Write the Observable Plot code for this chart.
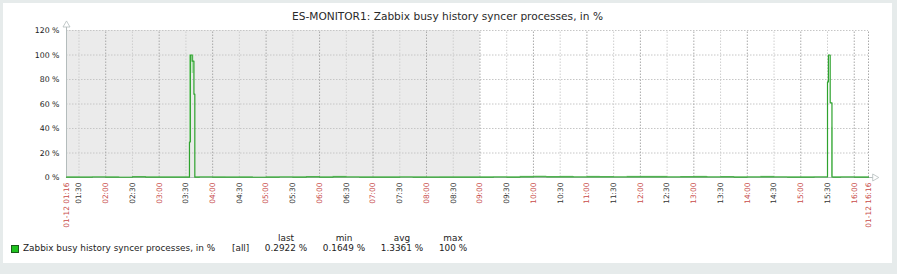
<!DOCTYPE html>
<html><head><meta charset="utf-8">
<script src="https://cdn.jsdelivr.net/npm/d3@7"></script>
<script src="https://cdn.jsdelivr.net/npm/@observablehq/plot@0.6"></script>
<style>
body{margin:0;background:#e6ebeb;font-family:"DejaVu Sans",sans-serif;width:897px;height:274px;overflow:hidden;position:relative}
#panel{position:absolute;left:3px;top:3px;width:889px;height:260px;background:#fff}
#title{position:absolute;left:3px;width:889px;top:10px;text-align:center;font-size:10.6px;color:#2a2a2a}
#chart{position:absolute;left:3px;top:3px}
.lg{position:absolute;font-size:8.9px;color:#222;white-space:nowrap}
</style></head><body>
<div id="panel"></div>
<div id="chart"></div>
<div id="title">ES-MONITOR1: Zabbix busy history syncer processes, in %</div>
<div id="legend"></div>
<script>
const day = "2024-01-12T";
// series (time HH:MM, avg/min/max in %)
const times = ["01:16","01:30","01:45","02:00","02:15","02:30","02:45","03:00","03:15","03:30","03:34","03:35","03:37","03:39","03:40","03:45","04:00","04:15","04:30","04:45","05:00","05:15","05:30","05:45","06:00","06:15","06:30","06:45","07:00","07:15","07:30","07:45","08:00","08:15","08:30","08:45","09:00","09:15","09:30","09:45","10:00","10:15","10:30","10:45","11:00","11:15","11:30","11:45","12:00","12:15","12:30","12:45","13:00","13:15","13:30","13:45","14:00","14:15","14:30","14:45","15:00","15:15","15:30","15:31","15:33","15:35","15:36","15:45","16:00","16:16"];
const avgVals = [0.3,0.25,0.4,0.3,0.2,0.5,0.3,0.35,0.3,0.3,29,100,95,68,0.3,0.4,0.3,0.25,0.3,0.2,0.35,0.4,0.3,0.45,0.3,0.5,0.4,0.3,0.35,0.3,0.4,0.3,0.25,0.3,0.35,0.3,0.3,0.4,0.35,0.5,0.6,0.45,0.5,0.4,0.5,0.45,0.4,0.5,0.55,0.5,0.4,0.45,0.5,0.4,0.45,0.35,0.4,0.5,0.4,0.35,0.3,0.4,78,100,61,0.4,0.35,0.4,0.35,0.29];
const minVals = [0.2,0.17,0.2,0.2,0.17,0.2,0.2,0.2,0.2,0.2,0.3,100,85,68,0.2,0.2,0.2,0.17,0.2,0.17,0.2,0.2,0.2,0.2,0.2,0.2,0.2,0.2,0.2,0.2,0.2,0.2,0.17,0.2,0.2,0.2,0.2,0.2,0.2,0.2,0.3,0.2,0.3,0.2,0.3,0.2,0.2,0.3,0.3,0.3,0.2,0.2,0.3,0.2,0.2,0.2,0.2,0.3,0.2,0.2,0.2,0.2,78,100,61,0.2,0.2,0.2,0.2,0.2];
const maxVals = [0.6,0.5,0.8,0.6,0.5,0.9,0.6,0.7,0.6,0.6,100,100,100,68,0.6,0.8,0.6,0.5,0.6,0.5,0.7,0.8,0.6,0.9,0.6,1.0,0.8,0.6,0.7,0.6,0.8,0.6,0.5,0.6,0.7,0.6,0.6,0.8,0.7,1.0,1.2,0.9,1.0,0.8,1.0,0.9,0.8,1.0,1.1,1.0,0.8,0.9,1.0,0.8,0.9,0.7,0.8,1.0,0.8,0.7,0.6,0.8,78,100,61,41,0.7,0.8,0.7,0.6];
// x tick labels
const tickTimes = ["01:16","01:30","02:00","02:30","03:00","03:30","04:00","04:30","05:00","05:30","06:00","06:30","07:00","07:30","08:00","08:30","09:00","09:30","10:00","10:30","11:00","11:30","12:00","12:30","13:00","13:30","14:00","14:30","15:00","15:30","16:00","16:16"];
const tickLabels = ["01-12 01:16","01:30","02:00","02:30","03:00","03:30","04:00","04:30","05:00","05:30","06:00","06:30","07:00","07:30","08:00","08:30","09:00","09:30","10:00","10:30","11:00","11:30","12:00","12:30","13:00","13:30","14:00","14:30","15:00","15:30","16:00","01-12 16:16"];
const yTicks = [0,20,40,60,80,100,120];
// shaded non-working period
const shadeStart = ["01:16"], shadeEnd = ["09:00"];
// legend
const legendName = "Zabbix busy history syncer processes, in %";
const legendHeaders = ["last","min","avg","max"];
const legendValues = ["0.2922 %","0.1649 %","1.3361 %","100 %"];

const T = s => new Date(day + s + ":00Z");
const data = times.map((t,i)=>({t:T(t),avg:avgVals[i],min:minVals[i],max:maxVals[i]}));
const ticks = tickTimes.map((t,i)=>({t:T(t),label:tickLabels[i],major:t.endsWith(":00")||i===0||i===tickTimes.length-1}));
const grid = ticks.filter((d,i)=>i>0);
const shade = shadeStart.map((s,i)=>({x1:T(s),x2:T(shadeEnd[i])}));
const t0 = T(times[0]), t1 = T(times[times.length-1]);

const plot = Plot.plot({
  width: 889, height: 232,
  marginLeft: 63, marginRight: 24, marginTop: 27, marginBottom: 58,
  style: {fontFamily: "DejaVu Sans, sans-serif", background: "transparent", overflow: "visible"},
  x: {type: "utc", domain: [t0, t1], axis: null},
  y: {domain: [0, 120], axis: null},
  marks: [
    Plot.rect(shade, {x1: "x1", x2: "x2", y1: 0, y2: 120, fill: "#ebebeb"}),
    Plot.ruleY(yTicks.filter(d=>d>0), {stroke: "#c6c6c6", strokeDasharray: "1.5,1.5"}),
    Plot.ruleX(grid, {x: "t", y1: 0, y2: 120, stroke: d=>d.major ? "#a9a9a9" : "#cfcfcf", strokeDasharray: "1.5,1.5"}),
    Plot.ruleX([t0], {y1: 0, y2: 124, stroke: "#b4bcbc"}),
    Plot.ruleY([0], {x1: t0, x2: T("16:23"), stroke: "#b4bcbc"}),
    Plot.dot([t0], {x: d=>d, y: 124.5, symbol: "triangle", r: 2.6, stroke: "#b4bcbc", fill: "white", strokeWidth: 0.8}),
    Plot.dot([T("16:23")], {x: d=>d, y: 0, symbol: "triangle", rotate: 90, r: 2.6, stroke: "#b4bcbc", fill: "white", strokeWidth: 0.8}),
    Plot.areaY(data, {x: "t", y1: "min", y2: "max", curve: "step-after", fill: "#a6dea6"}),
    Plot.lineY(data, {x: "t", y: "avg", curve: "step-after", stroke: "#2ea32e", strokeWidth: 1.2}),
    Plot.text(yTicks, {x: t0, y: d=>d, text: d=>d+" %", textAnchor: "end", dx: -7, fontSize: 7.8, fill: "#222"}),
    Plot.text(ticks, {x: "t", y: 0, text: "label", rotate: -90, textAnchor: "end", lineAnchor: "middle", dy: 5, fontSize: 7.4, fill: d=>d.major ? "#c84b4b" : "#333"})
  ]
});
document.getElementById("chart").appendChild(plot);

const lg = document.getElementById("legend");
let html = `<div style="position:absolute;left:11px;top:245px;width:6px;height:6px;background:#1fc21f;border:1px solid #1a5a1a"></div>`;
html += `<div class="lg" style="left:23px;top:243px">${legendName}</div>`;
html += `<div class="lg" style="left:232px;top:243px">[all]</div>`;
const cx = [286, 344, 402, 453];
legendHeaders.forEach((h,i)=>{
  html += `<div class="lg" style="left:${cx[i]-40}px;width:80px;text-align:center;top:233px">${h}</div>`;
  html += `<div class="lg" style="left:${cx[i]-40}px;width:80px;text-align:center;top:243px">${legendValues[i]}</div>`;
});
lg.innerHTML = html;
</script>
</body></html>
